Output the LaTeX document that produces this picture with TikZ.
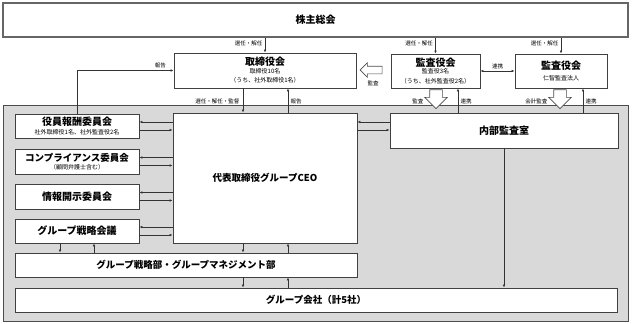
\documentclass[tikz,border=0pt]{standalone}
\usepackage{fontspec}
\setmainfont{Noto Sans CJK JP}
\usetikzlibrary{arrows.meta, calc, shapes.arrows}
\newcommand{\ttlfont}{\fontsize{10}{12}\selectfont\bfseries}
\newcommand{\subfont}{\fontsize{6}{9.5}\selectfont}
\newcommand{\lblfont}{\fontsize{5.5}{6}\selectfont}
\tikzset{
  box/.style={
    rectangle, draw=black!75, fill=white,
    line width=0.8pt, inner sep=1pt,
    align=center, font=\subfont,
  },
  topbox/.style={box, draw=black!60, line width=1.3pt},
  region/.style={rectangle, draw=black!70, fill=black!15, line width=0.8pt},
  arr/.style={-{Latex[length=3pt,width=2.6pt]}, draw=black!80, line width=0.6pt},
  biarr/.style={{Latex[length=3pt,width=2.6pt]}-{Latex[length=3pt,width=2.6pt]}, draw=black!80, line width=0.6pt},
  lbl/.style={font=\lblfont, inner sep=0.5pt},
  hollowleft/.style={
    single arrow, draw=black!70, fill=white, line width=0.6pt,
    inner sep=3.5pt, single arrow head extend=3.5pt,
    minimum height=22pt, shape border rotate=180,
  },
  hollowdown/.style={
    single arrow, draw=black!70, fill=white, line width=0.6pt,
    inner sep=6pt, single arrow head extend=5pt,
    minimum height=18pt, shape border rotate=270,
  },
}
\begin{document}
\begin{tikzpicture}[x=1pt, y=-1pt]
  \useasboundingbox (0,0) rectangle (632,324);

  % grey backdrop of the executive side
  \node[region, minimum width=625pt, minimum height=216pt] (area) at (315.5,213) {};

  % top rows
  \node[topbox, minimum width=625pt, minimum height=34pt] (shareholders) at (315.5,20) {\ttlfont 株主総会};
  \node[box, minimum width=182pt, minimum height=35pt] (board) at (265,70.5)
    {{\ttlfont 取締役会}\\[-2pt]取締役10名\\（うち、社外取締役1名）};
  \node[box, minimum width=89pt, minimum height=34pt] (auditors) at (435.5,71)
    {{\ttlfont 監査役会}\\[-2pt]監査役3名\\（うち、社外監査役2名）};
  \node[box, minimum width=92pt, minimum height=34pt] (accountant) at (561,71)
    {{\ttlfont 監査役会}\\[1pt]仁智監査法人};

  % committees on the left
  \node[box, minimum width=124pt, minimum height=24pt] (hoshu) at (77,126)
    {{\ttlfont 役員報酬委員会}\\[-1pt]社外取締役1名、社外監査役2名};
  \node[box, minimum width=124pt, minimum height=25pt] (comp) at (77,161.5)
    {{\fontsize{9.5}{12}\selectfont\bfseries コンプライアンス委員会}\\[-1pt]（顧問弁護士含む）};
  \node[box, minimum width=124pt, minimum height=25pt] (joho) at (77,196.5) {\ttlfont 情報開示委員会};
  \node[box, minimum width=124pt, minimum height=24pt] (senryaku) at (77,231) {\ttlfont グループ戦略会議};

  % executive and lower rows
  \node[box, minimum width=184pt, minimum height=130pt] (ceo) at (265,178)
    {\fontsize{9.5}{12}\selectfont\bfseries 代表取締役グループCEO};
  \node[box, minimum width=228pt, minimum height=35pt] (naibu) at (504,130.5) {\ttlfont 内部監査室};
  \node[box, minimum width=342pt, minimum height=24pt] (bu) at (186,265)
    {\fontsize{9.5}{12}\selectfont\bfseries グループ戦略部・グループマネジメント部};
  \node[box, minimum width=602pt, minimum height=24pt] (kaisha) at (316,300)
    {\fontsize{9.5}{12}\selectfont\bfseries グループ会社（計5社）};

  % hollow audit arrows
  \node[hollowleft] (auditarrow) at (373,70) {};
  \node[hollowdown] (audit1) at (436,96) {};
  \node[hollowdown] (audit2) at (560,96) {};

  % shareholders appoint
  \foreach \org in {board, auditors, accountant}
    \draw[arr] (shareholders.south -| \org) -- (\org.north);
  \node[lbl, anchor=east] (sel1) at ($(shareholders.south -| board)+(-2,6)$) {選任・解任};
  \node[lbl, anchor=east] (sel2) at ($(shareholders.south -| auditors)+(-2,6)$) {選任・解任};
  \node[lbl, anchor=east] (sel3) at ($(shareholders.south -| accountant)+(-2,6)$) {選任・解任};

  % auditors and accountant
  \draw[biarr] (auditors.east) -- (accountant.west);
  \node[lbl, anchor=south] (renkei0) at ($(auditors.east)!0.5!(accountant.west)+(0,-1.5)$) {連携};
  \node[lbl] (kansa0) at ($(auditarrow)+(0,13)$) {監査};

  % board and ceo
  \draw[arr] ($(board.south)+(-22,0)$) -- ($(ceo.north)+(-22,0)$);
  \draw[arr] ($(ceo.north)+(23,0)$) -- ($(board.south)+(23,0)$);
  \node[lbl, anchor=east] (sel4) at ($(board.south)+(-25,13.5)$) {選任・解任・監督};
  \node[lbl, anchor=west] (rep1) at ($(board.south)+(25,13.5)$) {報告};

  % remuneration committee reports to board
  \draw[arr] (hoshu.north) |- (board.west);
  \node[lbl, anchor=south east] (rep2) at ($(board.west)+(-7,-1.5)$) {報告};

  % committees and ceo
  \foreach \cmte in {hoshu, comp, joho, senryaku} {
    \draw[arr] ($(ceo.west |- \cmte.east)+(0,-4)$) -- ($(\cmte.east)+(0,-4)$);
    \draw[arr] ($(\cmte.east)+(0,4)$) -- ($(ceo.west |- \cmte.east)+(0,4)$);
  }

  % ceo and internal audit
  \draw[arr] ($(naibu.west |- hoshu.east)+(0,-4)$) -- ($(ceo.east |- hoshu.east)+(0,-4)$);
  \draw[arr] ($(ceo.east |- hoshu.east)+(0,4)$) -- ($(naibu.west |- hoshu.east)+(0,4)$);

  % internal audit cooperates upward
  \draw[arr] ($(auditors.south)+(22.5,0)$) ++(0,25) -- ($(auditors.south)+(22.5,0)$);
  \draw[arr] ($(accountant.south)+(22,0)$) ++(0,25) -- ($(accountant.south)+(22,0)$);
  \node[lbl, anchor=west] (renkei1) at (460,101) {連携};
  \node[lbl, anchor=west] (renkei2) at (585,101) {連携};
  \node[lbl, anchor=east] (kansa1) at (424,101) {監査};
  \node[lbl, anchor=east] (kansa2) at (548,101) {会計監査};

  % down to the group
  \draw[arr] ($(senryaku.south)+(-17,0)$) -- ($(senryaku.south |- bu.north)+(-17,0)$);
  \draw[arr] ($(senryaku.south |- bu.north)+(17,0)$) -- ($(senryaku.south)+(17,0)$);
  \draw[arr] ($(ceo.south)+(-22,0)$) -- ($(bu.north -| ceo)+(-22,0)$);
  \draw[arr] ($(bu.north -| ceo)+(23,0)$) -- ($(ceo.south)+(23,0)$);
  \draw[arr] ($(bu.south -| ceo)+(-22,0)$) -- ($(kaisha.north -| ceo)+(-22,0)$);
  \draw[arr] ($(kaisha.north -| ceo)+(23,0)$) -- ($(bu.south -| ceo)+(23,0)$);
  \draw[arr] (naibu.south) -- (naibu.south |- kaisha.north);

\end{tikzpicture}
\end{document}
